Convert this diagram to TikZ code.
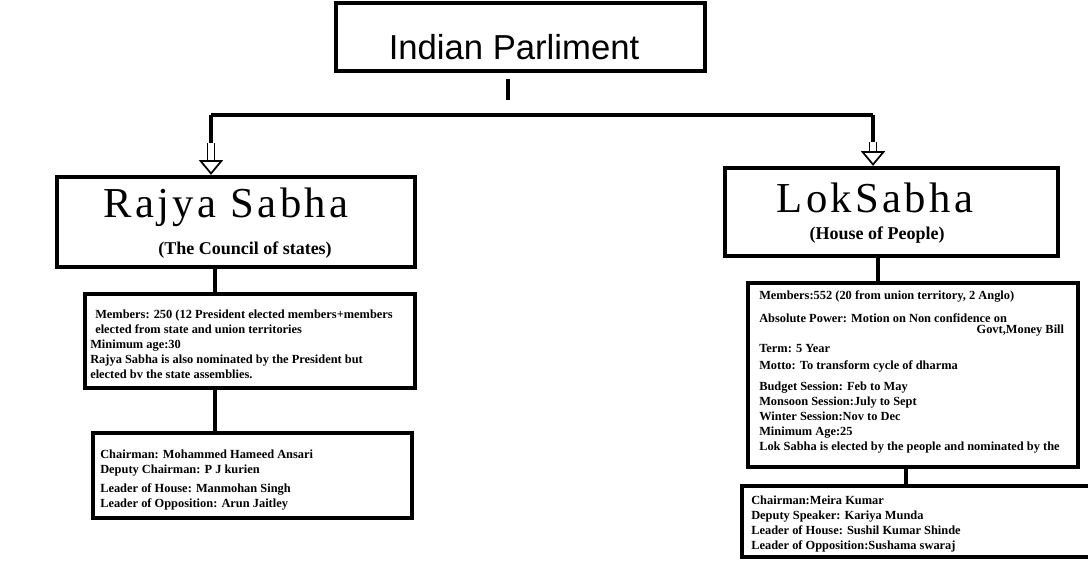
\documentclass[tikz,border=0pt]{standalone}
\usepackage{fontspec}
\setmainfont{Liberation Serif}
\newfontfamily\titlefont{Liberation Sans}
\newfontfamily\housefont[LetterSpace=8]{Liberation Serif}
\usetikzlibrary{arrows.meta}
\usetikzlibrary{fit}
\usetikzlibrary{positioning}
\tikzset{box/.style={draw, line width=3.2pt, inner sep=0pt},
         link/.style={line width=3pt},
         hollow/.style={double, double distance=4pt, line width=1.3pt,
            -{Triangle[open,width=18pt,length=11pt]}},
         info/.style={font=\fontsize{9.3}{11.25}\selectfont\bfseries,
            align=left, inner sep=0pt, anchor=base west}}

\begin{document}
\begin{tikzpicture}[x=0.75pt,y=-0.75pt]
\useasboundingbox (0,0) rectangle (1088,571);
% boxes
\node [box, fit={(336,3)(705,71)}] (parliament) {};
\node [box, fit={(57,177)(415,267)}] (rajya) {};
\node [box, fit={(85,294)(415,388)}] (rsInfo) {};
\node [box, fit={(93,433)(412,518)}] (rsHeads) {};
\node [box, fit={(725,168)(1058,256)}] (lok) {};
\node [box, fit={(748,283)(1078,467)}] (lsInfo) {};
\node [box, fit={(742,486)(1110,557)}] (lsHeads) {};
%
\node (parliamentText) at (514,47) {\titlefont\fontsize{26}{30}\selectfont Indian Parliment};
\node [anchor=base] (rajyaName) at (226,217) {\housefont\fontsize{32}{36}\selectfont Rajya Sabha};
\node [anchor=base] (rajyaSub) at (245,254) {\fontsize{13.5}{16}\selectfont\bfseries (The Council of states)};
\node [anchor=base] (lokName) at (875,212) {\housefont\fontsize{32}{36}\selectfont LokSabha};
\node [anchor=base] (lokSub) at (877,239) {\fontsize{13.5}{16}\selectfont\bfseries (House of People)};
% text blocks, placed by their last line
\node [info] (rsInfoText) at (90,378) {%
  \hspace*{3.75pt}Members: 250 (12 President elected members+members\\
  \hspace*{3.75pt}elected from state and union territories\\
  Minimum age:30\\
  Rajya Sabha is also nominated by the President but\\
  elected bv the state assemblies.};
\node [info] (rsHeadsText) at (100,507) {%
  Chairman: Mohammed Hameed Ansari\\
  Deputy Chairman: P J kurien\\[3pt]
  Leader of House: Manmohan Singh\\
  Leader of Opposition: Arun Jaitley};
\node [info] (lsInfoText) at (759,450) {%
  Members:552 (20 from union territory, 2 Anglo)\\[6pt]
  Absolute Power: Motion on Non confidence on\\[-3pt]
  \hspace*{163pt}Govt,Money Bill\\[3pt]
  Term: 5 Year\\[1.5pt]
  Motto: To transform cycle of dharma\\[4.5pt]
  Budget Session: Feb to May\\
  Monsoon Session:July to Sept\\
  Winter Session:Nov to Dec\\
  Minimum Age:25\\
  Lok Sabha is elected by the people and nominated by the};
\node [info] (lsHeadsText) at (751,549) {%
  Chairman:Meira Kumar\\
  Deputy Speaker: Kariya Munda\\
  Leader of House: Sushil Kumar Shinde\\
  Leader of Opposition:Sushama swaraj};
% connectors
\coordinate (fork) at (508,115);
\coordinate (rsDrop) at (211,115);
\coordinate (lsDrop) at (873,115);
\draw [link] (fork |- parliament.south) ++(0,6) -- ++(0,21);
\draw [link] (rsDrop) -- (lsDrop);
\draw [link] (rsDrop) -- ++(0,28) coordinate (rsHollow);
\draw [link] (lsDrop) -- ++(0,27) coordinate (lsHollow);
\draw [hollow] (rsHollow) -- (rsHollow |- rajya.north);
\draw [hollow] (lsHollow) -- (lsHollow |- lok.north);
%
\coordinate (rsStem) at (215,0);
\coordinate (lsStem) at (878,0);
\coordinate (lsStemB) at (906,0);
\draw [link] (rsStem |- rajya.south) -- (rsStem |- rsInfo.north);
\draw [link] (rsStem |- rsInfo.south) -- (rsStem |- rsHeads.north);
\draw [link] (lsStem |- lok.south) -- (lsStem |- lsInfo.north);
\draw [link] (lsStemB |- lsInfo.south) -- (lsStemB |- lsHeads.north);
\end{tikzpicture}
\end{document}
